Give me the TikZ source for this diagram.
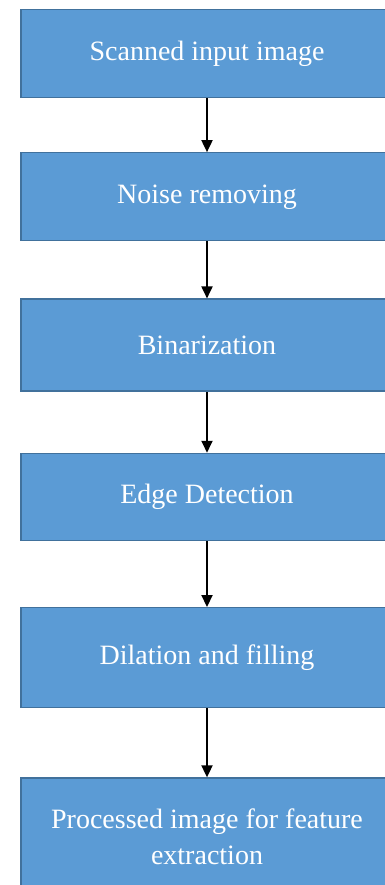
\documentclass[tikz,border=0pt]{standalone}
\usepackage{fontspec}
\setmainfont{Liberation Serif}
\usetikzlibrary{arrows.meta,positioning}

\definecolor{stageblue}{HTML}{5B9BD5}
\definecolor{stageedge}{HTML}{41719C}

\begin{document}
\begin{tikzpicture}[
    x=1pt, y=1pt,
    font=\fontsize{28}{36}\selectfont,
    >={Triangle[length=12pt,width=11pt]},
    stage/.style={draw=stageedge, line width=1.3pt, fill=stageblue, text=white, align=center, minimum width=372pt, minimum height=88pt, inner sep=4pt},
    line/.style={->, line width=1.8pt}
]
\useasboundingbox (0,0) rectangle (385,-885);

% Preprocessing stages
\node[stage] (scan) at (207,-53.5) {Scanned input image};
\node[stage, below=54pt of scan] (noise) {Noise removing};
\node[stage, below=57pt of noise, minimum height=92pt] (binar) {Binarization};
\node[stage, below=61pt of binar, minimum height=87pt] (edge) {Edge Detection};
\node[stage, below=66pt of edge, minimum height=100pt] (dilat) {Dilation and filling};
\node[stage, below=69pt of dilat, minimum height=118pt, text depth=0pt] (proc) {Processed image for feature\\extraction};

% Arrows
\draw[line] (scan) -- (noise);
\draw[line] (noise) -- (binar);
\draw[line] (binar) -- (edge);
\draw[line] (edge) -- (dilat);
\draw[line] (dilat) -- (proc);

\end{tikzpicture}
\end{document}
